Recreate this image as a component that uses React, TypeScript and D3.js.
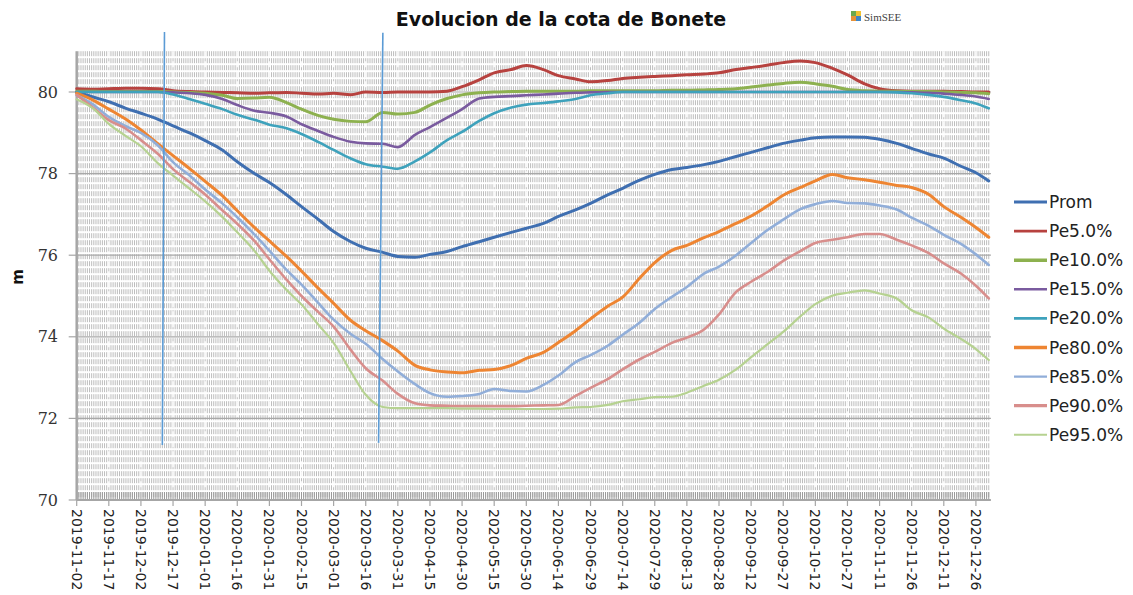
import React from 'react';
import * as d3 from 'd3';

const dates = [
  '2019-11-02','2019-11-10','2019-11-17','2019-11-25','2019-12-02','2019-12-10','2019-12-17','2019-12-25',
  '2020-01-01','2020-01-09','2020-01-16','2020-01-24','2020-01-31','2020-02-08','2020-02-15','2020-02-23',
  '2020-03-01','2020-03-09','2020-03-16','2020-03-24','2020-03-31','2020-04-08','2020-04-15','2020-04-23',
  '2020-04-30','2020-05-08','2020-05-15','2020-05-23','2020-05-30','2020-06-07','2020-06-14','2020-06-22',
  '2020-06-29','2020-07-07','2020-07-14','2020-07-22','2020-07-29','2020-08-06','2020-08-13','2020-08-21',
  '2020-08-28','2020-09-05','2020-09-12','2020-09-20','2020-09-27','2020-10-05','2020-10-12','2020-10-20',
  '2020-10-27','2020-11-04','2020-11-11','2020-11-19','2020-11-26','2020-12-04','2020-12-11','2020-12-19',
  '2020-12-26','2021-01-01'
];

const prom = [80.0,79.87,79.76,79.6,79.48,79.33,79.17,78.99,78.81,78.58,78.29,78.0,77.78,77.48,77.19,76.87,76.58,76.33,76.17,76.07,75.97,75.95,76.02,76.09,76.21,76.33,76.44,76.56,76.66,76.78,76.95,77.11,77.27,77.48,77.64,77.84,77.98,78.1,78.15,78.22,78.3,78.42,78.52,78.64,78.74,78.82,78.88,78.9,78.9,78.89,78.84,78.74,78.62,78.48,78.38,78.18,78.02,77.82];
const pe5 = [80.08,80.07,80.08,80.09,80.09,80.08,80.03,80.01,80.0,79.99,79.98,79.97,79.98,79.99,79.97,79.95,79.97,79.93,80.0,79.99,80.0,80.0,80.0,80.02,80.13,80.3,80.47,80.55,80.65,80.55,80.4,80.32,80.25,80.28,80.33,80.36,80.38,80.4,80.42,80.44,80.47,80.55,80.6,80.66,80.72,80.76,80.72,80.58,80.42,80.2,80.08,80.03,80.02,80.02,80.02,80.01,80.0,80.0];
const pe10 = [80.02,80.02,80.01,80.01,80.01,80.01,80.0,79.99,79.97,79.92,79.84,79.85,79.87,79.74,79.58,79.42,79.33,79.28,79.27,79.5,79.46,79.5,79.68,79.84,79.93,79.98,80.0,80.01,80.02,80.02,80.02,80.02,80.03,80.03,80.03,80.03,80.03,80.04,80.04,80.05,80.06,80.08,80.12,80.17,80.21,80.24,80.2,80.14,80.06,80.03,80.02,80.02,80.01,80.01,80.0,79.99,79.98,79.96];
const pe15 = [80.0,80.0,80.0,80.0,80.0,80.0,79.99,79.97,79.93,79.83,79.68,79.54,79.49,79.4,79.21,79.04,78.9,78.78,78.74,78.73,78.65,78.95,79.14,79.37,79.58,79.84,79.88,79.9,79.92,79.94,79.96,79.98,79.99,80.0,80.0,80.0,80.0,80.0,80.0,80.0,80.0,80.0,80.0,80.0,80.0,80.0,80.0,80.0,80.0,80.0,80.0,80.0,79.99,79.98,79.96,79.93,79.89,79.83];
const pe20 = [80.0,80.0,80.0,80.0,80.0,80.0,79.94,79.82,79.71,79.58,79.44,79.32,79.2,79.11,78.97,78.77,78.58,78.37,78.23,78.17,78.12,78.3,78.52,78.82,79.02,79.29,79.48,79.62,79.69,79.73,79.77,79.83,79.92,79.97,80.0,80.0,80.0,80.0,80.0,80.0,80.0,80.0,80.0,80.0,80.0,80.0,80.0,80.0,80.0,80.0,80.0,79.99,79.97,79.93,79.88,79.8,79.72,79.6];
const pe80 = [79.97,79.79,79.58,79.33,79.07,78.73,78.44,78.11,77.81,77.46,77.09,76.68,76.35,75.97,75.61,75.18,74.82,74.4,74.15,73.9,73.65,73.3,73.19,73.14,73.12,73.18,73.2,73.3,73.47,73.62,73.86,74.15,74.44,74.75,74.97,75.44,75.82,76.12,76.24,76.43,76.58,76.78,76.96,77.22,77.47,77.66,77.82,77.98,77.9,77.85,77.79,77.71,77.66,77.49,77.19,76.93,76.68,76.44];
const pe85 = [79.92,79.68,79.39,79.16,79.0,78.69,78.28,77.94,77.61,77.27,76.93,76.51,76.11,75.64,75.28,74.82,74.42,74.07,73.83,73.45,73.15,72.84,72.62,72.53,72.55,72.6,72.72,72.67,72.66,72.82,73.05,73.38,73.55,73.78,74.05,74.35,74.68,74.98,75.22,75.55,75.72,76.0,76.3,76.63,76.87,77.13,77.25,77.33,77.28,77.27,77.22,77.12,76.92,76.72,76.5,76.28,76.02,75.76];
const pe90 = [79.93,79.6,79.31,79.1,78.82,78.48,78.11,77.78,77.49,77.1,76.77,76.35,75.9,75.4,75.0,74.6,74.25,73.68,73.23,72.92,72.6,72.37,72.32,72.31,72.3,72.3,72.3,72.3,72.31,72.32,72.33,72.55,72.75,72.96,73.2,73.45,73.63,73.85,73.98,74.18,74.55,75.1,75.35,75.6,75.86,76.1,76.3,76.38,76.44,76.52,76.52,76.38,76.24,76.05,75.8,75.55,75.25,74.94];
const pe95 = [79.82,79.58,79.22,78.92,78.67,78.25,77.95,77.62,77.32,76.94,76.56,76.11,75.62,75.15,74.79,74.29,73.85,73.15,72.58,72.28,72.25,72.25,72.25,72.25,72.24,72.24,72.23,72.23,72.23,72.23,72.24,72.27,72.28,72.33,72.42,72.47,72.52,72.53,72.63,72.8,72.95,73.2,73.5,73.83,74.12,74.5,74.8,75.01,75.08,75.14,75.06,74.94,74.65,74.47,74.2,73.95,73.7,73.43];

const seriesNames = ['Prom','Pe5.0%','Pe10.0%','Pe15.0%','Pe20.0%','Pe80.0%','Pe85.0%','Pe90.0%','Pe95.0%'];
const seriesValues = [prom, pe5, pe10, pe15, pe20, pe80, pe85, pe90, pe95];
const seriesColors = ['#3f6fb1','#b7423f','#8db14f','#7a5b9f','#3ea2bc','#ee8532','#91aed9','#d88e8c','#b6d291'];
const seriesWidths = [3, 3, 3, 2.6, 2.6, 3, 2.6, 2.6, 2.2];
const legendWidths = [3.2, 2.6, 3.6, 2.6, 2.6, 3.6, 2.2, 3.2, 2];

const yTicks = [70, 72, 74, 76, 78, 80];
const xTickLabels = [
  '2019-11-02','2019-11-17','2019-12-02','2019-12-17','2020-01-01','2020-01-16','2020-01-31','2020-02-15',
  '2020-03-01','2020-03-16','2020-03-31','2020-04-15','2020-04-30','2020-05-15','2020-05-30','2020-06-14',
  '2020-06-29','2020-07-14','2020-07-29','2020-08-13','2020-08-28','2020-09-12','2020-09-27','2020-10-12',
  '2020-10-27','2020-11-11','2020-11-26','2020-12-11','2020-12-26'
];
const markerTopDates = ['2019-12-13', '2020-03-24'];
const markerBottomDates = ['2019-12-12', '2020-03-22'];
const markerTopValues = [81.47, 81.45];
const markerBottomValues = [71.35, 71.4];

export default function App() {
  const parse = d3.utcParse('%Y-%m-%d');
  const start = parse('2019-11-02') as Date;
  const end = parse('2021-01-02') as Date;
  const x = d3.scaleUtc().domain([start, end]).range([76.7, 990.9]);
  const y = d3.scaleLinear().domain([70, 81]).range([500, 51.2]);
  const pd = dates.map(s => parse(s) as Date);
  const days = d3.utcDay.range(start, end);
  const majors = xTickLabels.map(s => parse(s) as Date);
  const line = d3.line<number>().x((_, i) => x(pd[i])).y(v => y(v)).curve(d3.curveMonotoneX);
  const top = y(81);
  const bottom = y(70);

  return (
    <svg width={1133} height={595} style={{ position: 'absolute', left: 0, top: 0, background: '#fff' }}>
      <rect x={0} y={0} width={1133} height={595} fill="#fff" />
      {/* minor vertical grid */}
      <g stroke="#bdbdbd" strokeWidth={1} strokeDasharray="5,2">
        {days.map((d, i) => (
          <line key={i} x1={x(d)} x2={x(d)} y1={top} y2={bottom} />
        ))}
      </g>
      {/* major vertical grid */}
      <g stroke="#ffffff" strokeWidth={1.6} strokeDasharray="6,4" opacity={0.85}>
        {majors.map((d, i) => (
          <line key={i} x1={x(d)} x2={x(d)} y1={top} y2={bottom} />
        ))}
      </g>
      {/* horizontal major grid */}
      <g stroke="#a8a8a8" strokeWidth={1.2}>
        {yTicks.filter(t => t > 70).map(t => (
          <line key={t} x1={x(start)} x2={x(end)} y1={y(t)} y2={y(t)} />
        ))}
      </g>
      {/* minor ticks on x axis */}
      <g stroke="#9a9a9a" strokeWidth={1}>
        {days.map((d, i) => (
          <line key={i} x1={x(d)} x2={x(d)} y1={bottom - 8} y2={bottom} />
        ))}
      </g>
      {/* axes */}
      <line x1={x(start)} x2={x(end)} y1={bottom} y2={bottom} stroke="#a6a6a6" strokeWidth={2} />
      <line x1={x(start)} x2={x(start)} y1={top} y2={bottom} stroke="#a6a6a6" strokeWidth={2.5} />
      <g stroke="#a6a6a6" strokeWidth={1.2}>
        {majors.map((d, i) => (
          <line key={i} x1={x(d)} x2={x(d)} y1={bottom} y2={bottom + 6} />
        ))}
        {yTicks.map(t => (
          <line key={t} x1={x(start) - 8} x2={x(start)} y1={y(t)} y2={y(t)} />
        ))}
      </g>
      {/* y labels */}
      <g fontFamily="DejaVu Serif" fontSize={16} fill="#333" textAnchor="end">
        {yTicks.map(t => (
          <text key={t} x={58} y={y(t)} dominantBaseline="central">{t}</text>
        ))}
      </g>
      {/* x labels */}
      <g fontFamily="DejaVu Sans" fontSize={14} fill="#222">
        {majors.map((d, i) => (
          <text key={i} transform={`translate(${x(d)},509) rotate(90)`} dominantBaseline="central">
            {xTickLabels[i]}
          </text>
        ))}
      </g>
      {/* series */}
      <g fill="none" strokeLinejoin="round" strokeLinecap="round">
        {seriesValues.map((vals, i) => (
          <path key={i} d={line(vals) || ''} stroke={seriesColors[i]} strokeWidth={seriesWidths[i]} />
        ))}
      </g>
      {/* annotation markers */}
      <g stroke="#5b9bd5" strokeWidth={1.6}>
        {markerTopDates.map((s, i) => (
          <line key={i}
            x1={x(parse(s) as Date)} y1={y(markerTopValues[i])}
            x2={x(parse(markerBottomDates[i]) as Date)} y2={y(markerBottomValues[i])} />
        ))}
      </g>
      {/* title */}
      <text x={561} y={26} textAnchor="middle" fontFamily="DejaVu Sans" fontWeight="bold" fontSize={19} fill="#111">
        Evolucion de la cota de Bonete
      </text>
      {/* logo */}
      <g>
        <rect x={851} y={11} width={5} height={5} fill="#6aa84f" />
        <rect x={856} y={11} width={5} height={5} fill="#f1c232" />
        <rect x={851} y={16} width={5} height={5} fill="#e69138" />
        <rect x={856} y={16} width={5} height={5} fill="#3d85c6" />
        <text x={864} y={21} fontFamily="Liberation Serif" fontSize={11} fill="#444">SimSEE</text>
      </g>
      {/* y axis title */}
      <text transform="translate(18,277) rotate(-90)" textAnchor="middle" dominantBaseline="central"
        fontFamily="DejaVu Sans" fontWeight="bold" fontSize={15} fill="#111">m</text>
      {/* legend */}
      <g>
        {seriesNames.map((n, i) => {
          const ly = 202 + i * 29.1;
          return (
            <g key={n}>
              <line x1={1014} x2={1047} y1={ly} y2={ly} stroke={seriesColors[i]} strokeWidth={legendWidths[i]} />
              <text x={1049} y={ly} dominantBaseline="central" fontFamily="DejaVu Sans" fontSize={17} fill="#222">{n}</text>
            </g>
          );
        })}
      </g>
    </svg>
  );
}
